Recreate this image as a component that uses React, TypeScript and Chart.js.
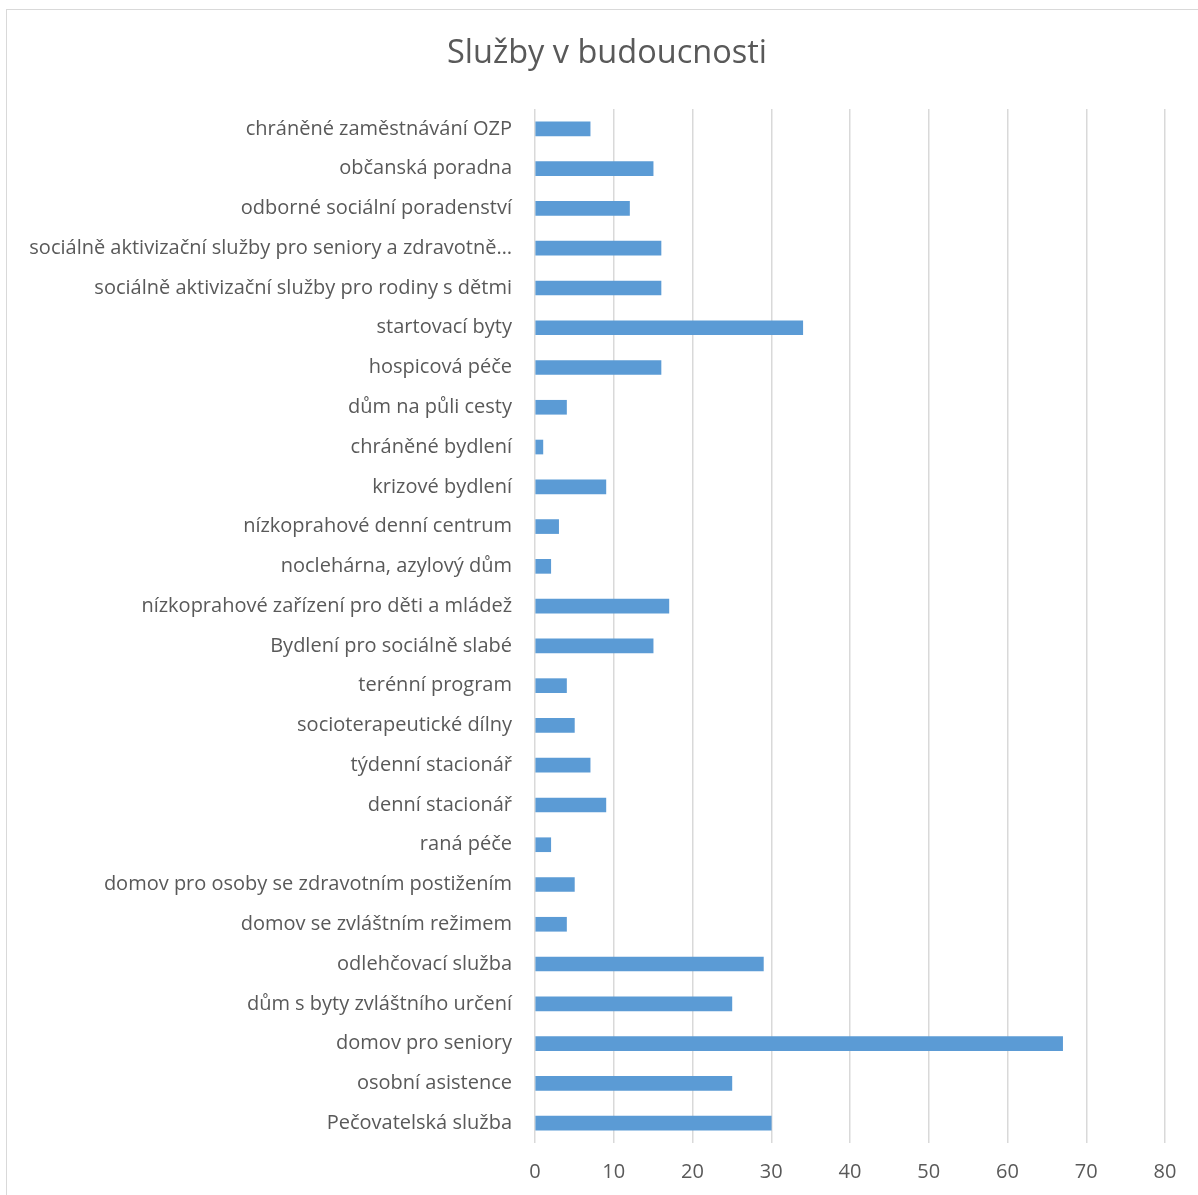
import React, { useEffect, useRef } from "react";
import { Chart, registerables } from "chart.js";

Chart.register(...registerables);

const TITLE = "Služby v budoucnosti";

const categories: string[] = [
  "chráněné zaměstnávání OZP",
  "občanská poradna",
  "odborné sociální poradenství",
  "sociálně aktivizační služby pro seniory a zdravotně…",
  "sociálně aktivizační služby pro rodiny s dětmi",
  "startovací byty",
  "hospicová péče",
  "dům na půli cesty",
  "chráněné bydlení",
  "krizové bydlení",
  "nízkoprahové denní centrum",
  "noclehárna, azylový dům",
  "nízkoprahové zařízení pro děti a mládež",
  "Bydlení pro sociálně slabé",
  "terénní program",
  "socioterapeutické dílny",
  "týdenní stacionář",
  "denní stacionář",
  "raná péče",
  "domov pro osoby se zdravotním postižením",
  "domov se zvláštním režimem",
  "odlehčovací služba",
  "dům s byty zvláštního určení",
  "domov pro seniory",
  "osobní asistence",
  "Pečovatelská služba",
];

const values: number[] = [
  7, 15, 12, 16, 16, 34, 16, 4, 1, 9, 3, 2, 17, 15, 4, 5, 7, 9, 2, 5, 4, 29, 25, 67, 25, 30,
];

const xTicks: number[] = [0, 10, 20, 30, 40, 50, 60, 70, 80];

const FONT = "'Open Sans', Lato, sans-serif";

export default function App() {
  const ref = useRef<HTMLCanvasElement | null>(null);

  useEffect(() => {
    if (!ref.current) return;
    const titlePlugin = {
      id: "customTitle",
      afterDraw(chart: any) {
        const ctx = chart.ctx;
        ctx.save();
        ctx.font = `32.5px ${FONT}`;
        ctx.fillStyle = "#595959";
        ctx.textAlign = "center";
        ctx.textBaseline = "middle";
        ctx.fillText(TITLE, 607, 54);
        ctx.restore();
      },
    };
    const chart = new Chart(ref.current, {
      type: "bar",
      data: {
        labels: categories,
        datasets: [
          {
            data: values,
            backgroundColor: "#5B9BD5",
            barThickness: 14,
          },
        ],
      },
      options: {
        indexAxis: "y",
        animation: false,
        responsive: false,
        maintainAspectRatio: false,
        layout: { padding: { top: 109, right: 33, bottom: 0, left: 0 } },
        plugins: {
          legend: { display: false },
          title: { display: false },
          tooltip: { enabled: false },
        },
        scales: {
          x: {
            min: 0,
            max: 80,
            afterBuildTicks(scale: any) {
              scale.ticks = xTicks.map((v) => ({ value: v }));
            },
            afterFit(scale: any) {
              scale.height = 52;
            },
            grid: { color: "#d9d9d9", lineWidth: 1.5, drawTicks: false },
            border: { display: false },
            ticks: {
              padding: 17,
              color: "#595959",
              font: { family: FONT, size: 20 },
            },
          },
          y: {
            afterFit(scale: any) {
              scale.width = 535;
            },
            grid: { display: false, drawTicks: false },
            border: { display: false },
            ticks: {
              padding: 23,
              autoSkip: false,
              color: "#595959",
              font: { family: FONT, size: 20 },
            },
          },
        },
      },
      plugins: [titlePlugin],
    });
    return () => chart.destroy();
  }, []);

  return (
    <div
      style={{
        position: "fixed",
        left: 0,
        top: 0,
        width: 1198,
        height: 1195,
        overflow: "hidden",
        background: "#fff",
      }}
    >
      <div
        style={{
          position: "absolute",
          left: 6,
          top: 9,
          width: 1200,
          height: 1200,
          border: "1.5px solid #d9d9d9",
          boxSizing: "border-box",
        }}
      />
      <canvas
        ref={ref}
        width={1198}
        height={1195}
        style={{ position: "absolute", left: 0, top: 0 }}
      />
    </div>
  );
}
